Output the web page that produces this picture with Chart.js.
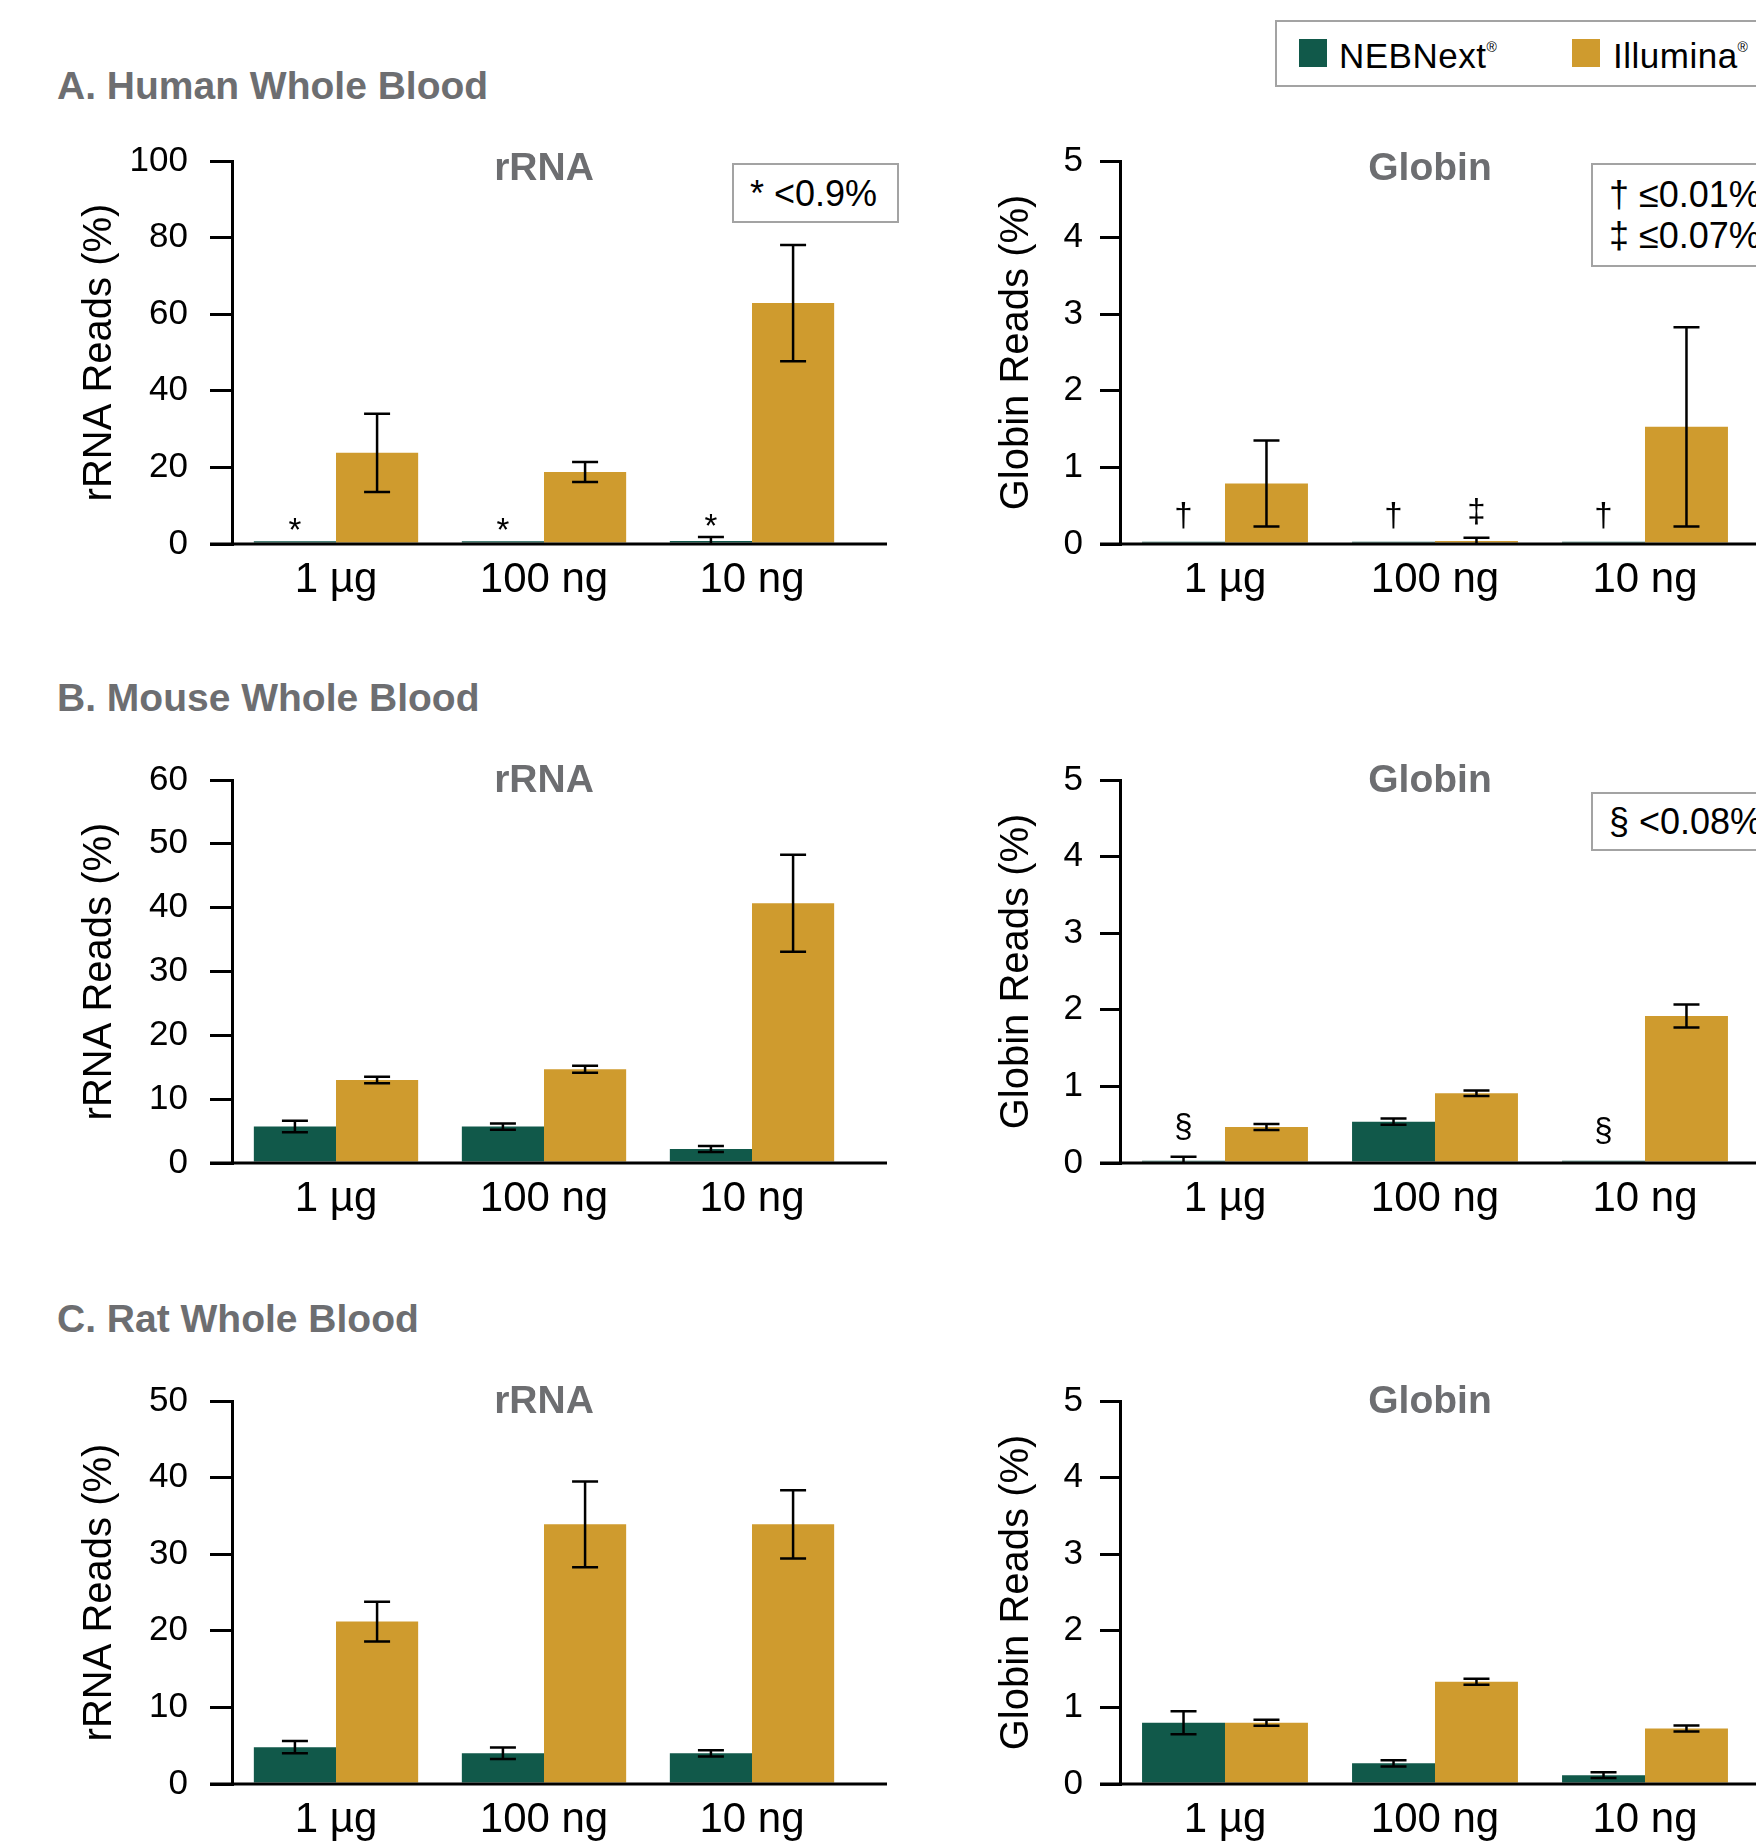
<!DOCTYPE html>
<html>
<head>
<meta charset="utf-8">
<script src="https://cdn.jsdelivr.net/npm/chart.js@4.4.0/dist/chart.umd.min.js"></script>
<style>
  body { margin: 0; width: 1756px; height: 1848px; overflow: hidden; background: #fff;
         font-family: "Liberation Sans", Arial, Helvetica, sans-serif; position: relative; }
  .panel-title { position: absolute; left: 57px; font-weight: bold; font-size: 39px; line-height: 39px; color: #6d6e71; white-space: nowrap; }
  canvas { position: absolute; }
  .box { position: absolute; box-sizing: border-box; border: 2px solid #a3a3a3; background: #fff; white-space: nowrap; }
  .note { font-size: 36px; line-height: 41px; color: #000; padding-left: 16px; }
  .legend span { position: absolute; }
  .legend .sw { width: 28px; height: 28px; }
  .legend .lab { font-size: 35px; line-height: 35px; color: #000; letter-spacing: 0.5px; }
  .legend sup { font-size: 14px; vertical-align: 16px; letter-spacing: 0; }
</style>
</head>
<body>

<div class="panel-title" style="top:66px">A. Human Whole Blood</div>
<div class="panel-title" style="top:678px">B. Mouse Whole Blood</div>
<div class="panel-title" style="top:1299px">C. Rat Whole Blood</div>

<canvas id="humanRrna" width="900" height="520" style="left:0;top:100px"></canvas>
<canvas id="humanGlobin" width="856" height="520" style="left:900px;top:100px"></canvas>
<canvas id="mouseRrna" width="900" height="520" style="left:0;top:719px"></canvas>
<canvas id="mouseGlobin" width="856" height="520" style="left:900px;top:719px"></canvas>
<canvas id="ratRrna" width="900" height="520" style="left:0;top:1340px"></canvas>
<canvas id="ratGlobin" width="856" height="520" style="left:900px;top:1340px"></canvas>

<div class="box legend" style="left:1275px;top:20px;width:520px;height:67px">
  <span class="sw" style="left:22px;top:17px;background:#11594a"></span>
  <span class="lab" style="left:62px;top:8px">NEBNext<sup>®</sup></span>
  <span class="sw" style="left:295px;top:17px;background:#cf9b2e"></span>
  <span class="lab" style="left:336px;top:8px">Illumina<sup>®</sup></span>
</div>

<div class="box note" style="left:732px;top:163px;width:167px;height:60px;padding-top:8px">* &lt;0.9%</div>
<div class="box note" style="left:1591px;top:163px;width:300px;height:104px;padding-top:9px">† ≤0.01%<br>‡ ≤0.07%</div>
<div class="box note" style="left:1591px;top:792px;width:300px;height:59px;padding-top:7px">§ &lt;0.08%</div>

<script>
const GREEN = "#11594a";
const GOLD = "#cf9b2e";

const categories = ["1 µg", "100 ng", "10 ng"];

// A. Human whole blood
const humanRrnaNeb = [0.7, 0.7, 0.8];
const humanRrnaNebSd = [null, null, 1.0];
const humanRrnaIll = [23.8, 18.8, 62.9];
const humanRrnaIllSd = [10.2, 2.6, 15.2];
const humanRrnaNebMarks = ["*", "*", "*"];

const humanGlobinNeb = [0.03, 0.03, 0.03];
const humanGlobinNebSd = [null, null, null];
const humanGlobinIll = [0.79, 0.04, 1.53];
const humanGlobinIllSd = [0.56, 0.04, 1.3];
const humanGlobinNebMarks = ["†", "†", "†"];
const humanGlobinIllMarks = ["", "‡", ""];

// B. Mouse whole blood
const mouseRrnaNeb = [5.7, 5.7, 2.2];
const mouseRrnaNebSd = [0.9, 0.5, 0.47];
const mouseRrnaIll = [13.0, 14.7, 40.7];
const mouseRrnaIllSd = [0.5, 0.55, 7.6];

const mouseGlobinNeb = [0.03, 0.54, 0.03];
const mouseGlobinNebSd = [0.05, 0.04, null];
const mouseGlobinIll = [0.47, 0.91, 1.92];
const mouseGlobinIllSd = [0.04, 0.035, 0.15];
const mouseGlobinNebMarks = ["§", "", "§"];

// C. Rat whole blood
const ratRrnaNeb = [4.8, 4.0, 4.0];
const ratRrnaNebSd = [0.8, 0.75, 0.4];
const ratRrnaIll = [21.2, 33.9, 33.9];
const ratRrnaIllSd = [2.6, 5.6, 4.45];

const ratGlobinNeb = [0.8, 0.27, 0.115];
const ratGlobinNebSd = [0.15, 0.04, 0.037];
const ratGlobinIll = [0.8, 1.335, 0.725];
const ratGlobinIllSd = [0.04, 0.04, 0.04];

const rrnaTicks = { human: [100, 20], mouse: [60, 10], rat: [50, 10] };
const globinTicks = [5, 1];

Chart.defaults.font.family = '"Liberation Sans", Arial, Helvetica, sans-serif';

// left and right column geometry (axis box widths, tick lengths)
const sides = {
    left:  { padLeft: 76, padRight: 44, axisWidth: 156, tickLen: 22, tickPad: 22, overhang: 31, titleDx: 0 },
    right: { padLeft: 93, padRight: 6,  axisWidth: 127, tickLen: 20, tickPad: 17, overhang: 35, titleDx: -5 }
};

// error bars, significance marks, the long x axis line and the small grey title
const extrasPlugin = {
    id: "extras",
    afterDatasetsDraw(chart, args, opts) {
        const { ctx, chartArea: a } = chart;
        const y = chart.scales.y;
        ctx.save();

        ctx.strokeStyle = "#000";
        ctx.lineWidth = 3;
        ctx.beginPath();
        ctx.moveTo(a.left - opts.tickLen, a.bottom);
        ctx.lineTo(a.right + opts.overhang, a.bottom);
        ctx.stroke();

        ctx.lineWidth = 2.5;
        ctx.fillStyle = "#000";
        ctx.font = '33px "Liberation Sans", Arial, sans-serif';
        ctx.textAlign = "center";
        ctx.textBaseline = "alphabetic";
        chart.data.datasets.forEach((ds, di) => {
            chart.getDatasetMeta(di).data.forEach((bar, i) => {
                const v = ds.data[i];
                const e = ds.sd ? ds.sd[i] : null;
                let top = bar.y;
                if (e) {
                    const hi = y.getPixelForValue(v + e);
                    const lo = y.getPixelForValue(Math.max(0, v - e));
                    ctx.beginPath();
                    ctx.moveTo(bar.x, hi);
                    ctx.lineTo(bar.x, lo);
                    ctx.moveTo(bar.x - 13, hi);
                    ctx.lineTo(bar.x + 13, hi);
                    if (v - e > 0) {
                        ctx.moveTo(bar.x - 13, lo);
                        ctx.lineTo(bar.x + 13, lo);
                    }
                    ctx.stroke();
                    top = hi;
                }
                const m = ds.marks ? ds.marks[i] : "";
                if (m) ctx.fillText(m, bar.x, top - opts.markGap);
            });
        });

        ctx.fillStyle = "#6d6e71";
        ctx.font = 'bold 39px "Liberation Sans", Arial, sans-serif';
        ctx.textBaseline = "middle";
        ctx.fillText(opts.title, (a.left + a.right) / 2 + opts.titleDx, a.top + opts.titleDy);
        ctx.restore();
    }
};

function makeChart(id, side, p) {
    const s = sides[side];
    return new Chart(document.getElementById(id), {
        type: "bar",
        data: {
            labels: categories,
            datasets: [
                { label: "NEBNext", data: p.neb, sd: p.nebSd, marks: p.nebMarks, backgroundColor: GREEN },
                { label: "Illumina", data: p.ill, sd: p.illSd, marks: p.illMarks, backgroundColor: GOLD }
            ]
        },
        options: {
            responsive: false,
            animation: false,
            layout: { padding: { left: s.padLeft, right: s.padRight, top: 61, bottom: 6 } },
            datasets: { bar: { categoryPercentage: 0.79, barPercentage: 1.0, borderWidth: 0 } },
            scales: {
                x: {
                    grid: { display: false, drawTicks: false },
                    border: { display: false },
                    ticks: { font: { size: 42 }, color: "#000", padding: 11 },
                    afterFit: sc => { sc.height = 70; }
                },
                y: {
                    min: 0,
                    max: p.max,
                    ticks: { stepSize: p.step, font: { size: 35 }, color: "#000", padding: s.tickPad },
                    grid: { drawOnChartArea: false, drawTicks: true, tickLength: s.tickLen, color: "#000", lineWidth: 3 },
                    border: { display: true, color: "#000", width: 3 },
                    title: { display: true, text: p.yTitle, font: { size: 40 }, color: "#000", padding: 0 },
                    afterFit: sc => { sc.width = s.axisWidth; }
                }
            },
            plugins: {
                legend: { display: false },
                tooltip: { enabled: false },
                extras: {
                    title: p.title, titleDy: p.titleDy, titleDx: s.titleDx, markGap: p.markGap,
                    tickLen: s.tickLen, overhang: s.overhang
                }
            }
        },
        plugins: [extrasPlugin]
    });
}

makeChart("humanRrna", "left", {
    neb: humanRrnaNeb, nebSd: humanRrnaNebSd, nebMarks: humanRrnaNebMarks,
    ill: humanRrnaIll, illSd: humanRrnaIllSd,
    max: rrnaTicks.human[0], step: rrnaTicks.human[1],
    yTitle: "rRNA Reads (%)", title: "rRNA", titleDy: 8, markGap: 0
});
makeChart("humanGlobin", "right", {
    neb: humanGlobinNeb, nebSd: humanGlobinNebSd, nebMarks: humanGlobinNebMarks,
    ill: humanGlobinIll, illSd: humanGlobinIllSd, illMarks: humanGlobinIllMarks,
    max: globinTicks[0], step: globinTicks[1],
    yTitle: "Globin Reads (%)", title: "Globin", titleDy: 8, markGap: 16
});
makeChart("mouseRrna", "left", {
    neb: mouseRrnaNeb, nebSd: mouseRrnaNebSd,
    ill: mouseRrnaIll, illSd: mouseRrnaIllSd,
    max: rrnaTicks.mouse[0], step: rrnaTicks.mouse[1],
    yTitle: "rRNA Reads (%)", title: "rRNA", titleDy: 1, markGap: 0
});
makeChart("mouseGlobin", "right", {
    neb: mouseGlobinNeb, nebSd: mouseGlobinNebSd, nebMarks: mouseGlobinNebMarks,
    ill: mouseGlobinIll, illSd: mouseGlobinIllSd,
    max: globinTicks[0], step: globinTicks[1],
    yTitle: "Globin Reads (%)", title: "Globin", titleDy: 1, markGap: 20
});
makeChart("ratRrna", "left", {
    neb: ratRrnaNeb, nebSd: ratRrnaNebSd,
    ill: ratRrnaIll, illSd: ratRrnaIllSd,
    max: rrnaTicks.rat[0], step: rrnaTicks.rat[1],
    yTitle: "rRNA Reads (%)", title: "rRNA", titleDy: 1, markGap: 0
});
makeChart("ratGlobin", "right", {
    neb: ratGlobinNeb, nebSd: ratGlobinNebSd,
    ill: ratGlobinIll, illSd: ratGlobinIllSd,
    max: globinTicks[0], step: globinTicks[1],
    yTitle: "Globin Reads (%)", title: "Globin", titleDy: 1, markGap: 0
});
</script>
</body>
</html>
